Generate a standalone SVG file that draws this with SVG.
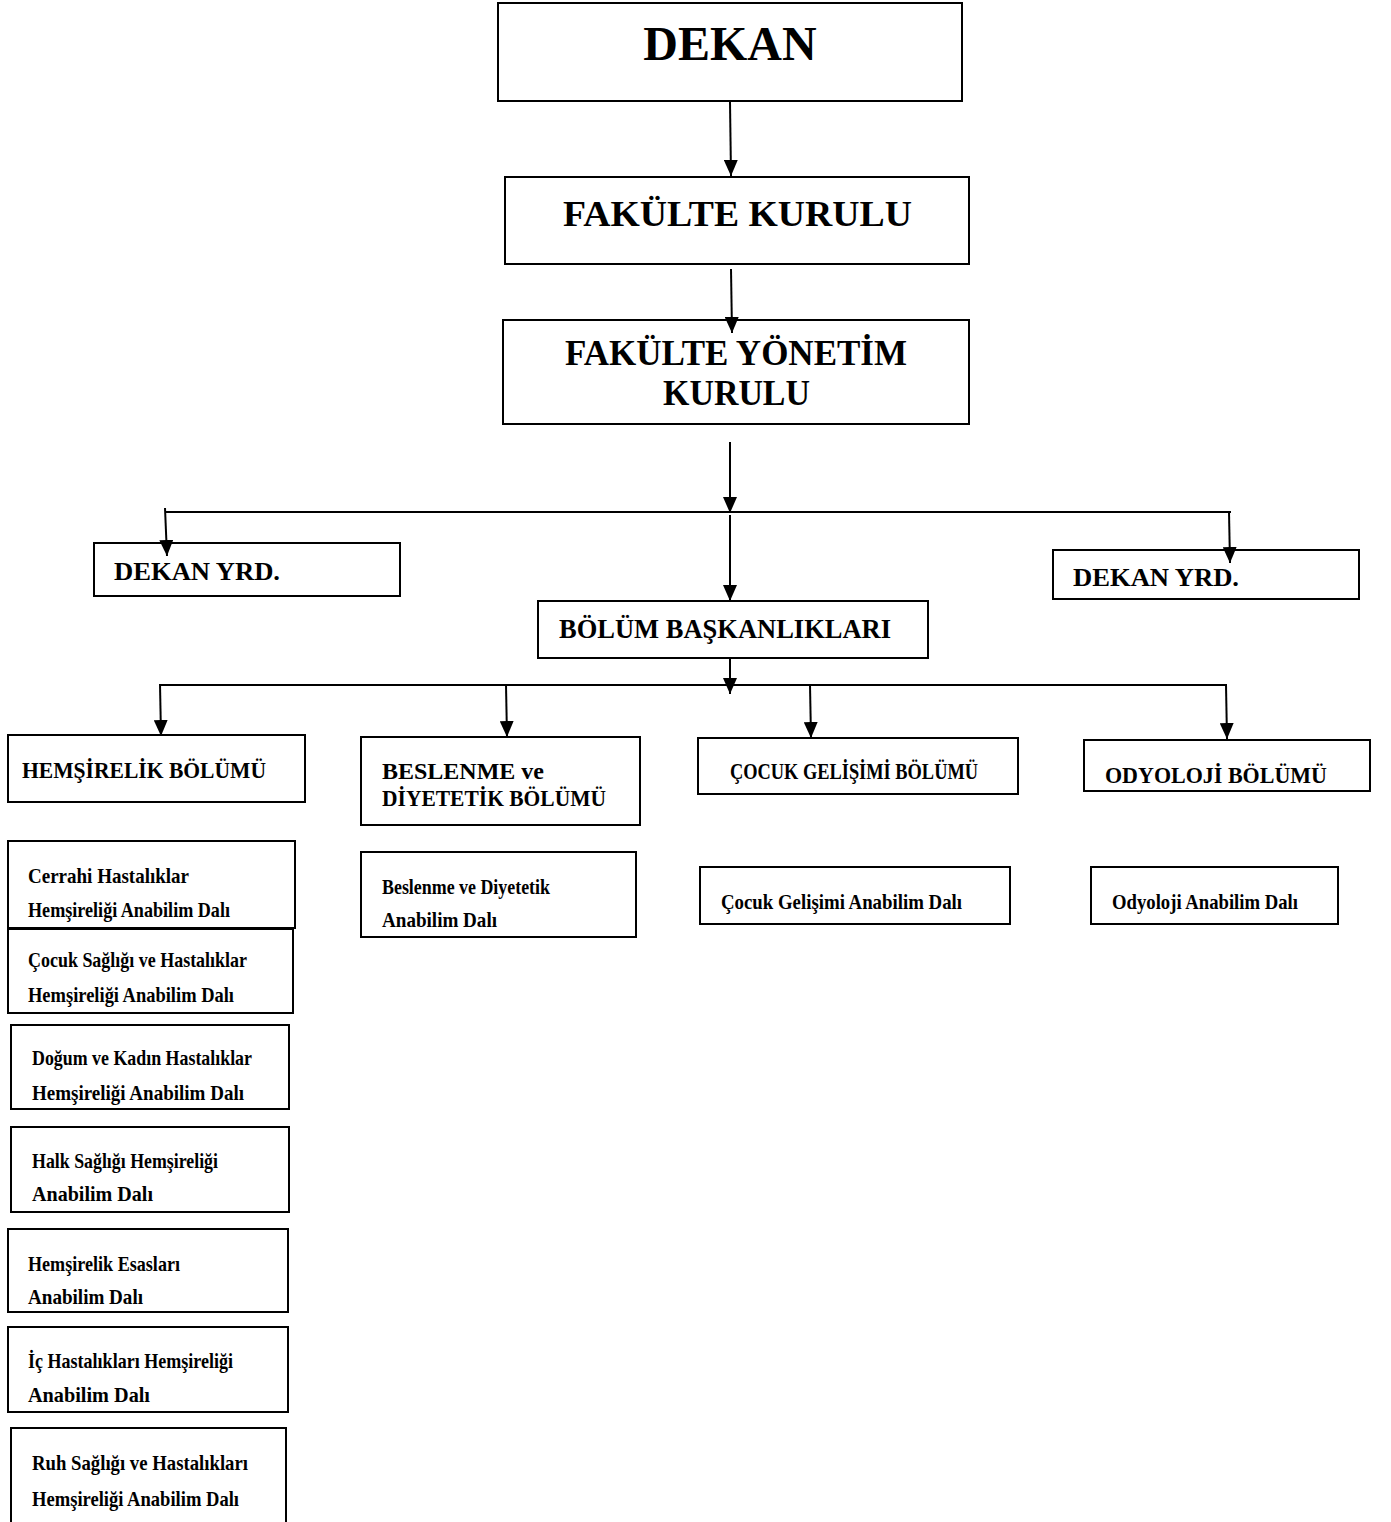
<svg xmlns="http://www.w3.org/2000/svg" width="1391" height="1522" viewBox="0 0 1391 1522">
<style>
.box{fill:#fff;stroke:#000;stroke-width:2}
.con{fill:none;stroke:#000;stroke-width:2}
text{font-family:"Liberation Serif","Times New Roman",serif;font-weight:bold;fill:#000}
.s{font-size:22px}
.d{font-size:24px}
</style>
<defs>
<marker id="ah" viewBox="0 0 16 14" refX="16" refY="7" markerWidth="16" markerHeight="14" markerUnits="userSpaceOnUse" orient="auto">
<path d="M0,0 L16,7 L0,14 z" fill="#000"/>
</marker>
</defs>
<rect width="1391" height="1522" fill="#fff"/>
<g id="dekan"><rect class="box" x="498" y="3" width="464" height="98"/><text x="730" y="60" text-anchor="middle" font-size="48">DEKAN</text></g>
<g id="fakulte-kurulu"><rect class="box" x="505" y="177" width="464" height="87"/><text x="563" y="226" font-size="36" textLength="349" lengthAdjust="spacingAndGlyphs">FAKÜLTE KURULU</text></g>
<g id="fakulte-yonetim"><rect class="box" x="503" y="320" width="466" height="104"/><text x="565" y="365" font-size="36" textLength="342" lengthAdjust="spacingAndGlyphs">FAKÜLTE YÖNETİM</text><text x="663" y="405" font-size="36" textLength="147" lengthAdjust="spacingAndGlyphs">KURULU</text></g>
<g id="dekan-yrd-1"><rect class="box" x="94" y="543" width="306" height="53"/><text x="114" y="580" font-size="26" textLength="166" lengthAdjust="spacingAndGlyphs">DEKAN YRD.</text></g>
<g id="dekan-yrd-2"><rect class="box" x="1053" y="550" width="306" height="49"/><text x="1073" y="586" font-size="26" textLength="166" lengthAdjust="spacingAndGlyphs">DEKAN YRD.</text></g>
<g id="bolum-baskanliklari"><rect class="box" x="538" y="601" width="390" height="57"/><text x="559" y="638" font-size="27" textLength="332" lengthAdjust="spacingAndGlyphs">BÖLÜM BAŞKANLIKLARI</text></g>
<g id="hemsirelik"><rect class="box" x="8" y="735" width="297" height="67"/><text class="d" x="22" y="778" textLength="244" lengthAdjust="spacingAndGlyphs">HEMŞİRELİK BÖLÜMÜ</text></g>
<g id="beslenme"><rect class="box" x="361" y="737" width="279" height="88"/><text class="d" x="382" y="779" textLength="162" lengthAdjust="spacingAndGlyphs">BESLENME ve</text><text class="d" x="382" y="806" textLength="224" lengthAdjust="spacingAndGlyphs">DİYETETİK BÖLÜMÜ</text></g>
<g id="cocuk-gelisimi"><rect class="box" x="698" y="738" width="320" height="56"/><text class="d" x="730" y="779" textLength="248" lengthAdjust="spacingAndGlyphs">ÇOCUK  GELİŞİMİ  BÖLÜMÜ</text></g>
<g id="odyoloji"><rect class="box" x="1084" y="740" width="286" height="51"/><text class="d" x="1105" y="783" textLength="222" lengthAdjust="spacingAndGlyphs">ODYOLOJİ  BÖLÜMÜ</text></g>
<g id="cerrahi"><rect class="box" x="8" y="841" width="287" height="87"/><text class="s" x="28" y="883" textLength="161" lengthAdjust="spacingAndGlyphs">Cerrahi Hastalıklar</text><text class="s" x="28" y="917" textLength="202" lengthAdjust="spacingAndGlyphs">Hemşireliği Anabilim Dalı</text></g>
<g id="cocuk-sagligi"><rect class="box" x="8" y="929" width="285" height="84"/><text class="s" x="28" y="967" textLength="219" lengthAdjust="spacingAndGlyphs">Çocuk Sağlığı ve Hastalıklar</text><text class="s" x="28" y="1002" textLength="206" lengthAdjust="spacingAndGlyphs">Hemşireliği Anabilim  Dalı</text></g>
<g id="dogum"><rect class="box" x="11" y="1025" width="278" height="84"/><text class="s" x="32" y="1065" textLength="220" lengthAdjust="spacingAndGlyphs">Doğum ve Kadın Hastalıklar</text><text class="s" x="32" y="1100" textLength="212" lengthAdjust="spacingAndGlyphs">Hemşireliği Anabilim Dalı</text></g>
<g id="halk-sagligi"><rect class="box" x="11" y="1127" width="278" height="85"/><text class="s" x="32" y="1168" textLength="186" lengthAdjust="spacingAndGlyphs">Halk Sağlığı Hemşireliği</text><text class="s" x="32" y="1201" textLength="121" lengthAdjust="spacingAndGlyphs">Anabilim Dalı</text></g>
<g id="esaslari"><rect class="box" x="8" y="1229" width="280" height="83"/><text class="s" x="28" y="1271" textLength="152" lengthAdjust="spacingAndGlyphs">Hemşirelik Esasları</text><text class="s" x="28" y="1304" textLength="115" lengthAdjust="spacingAndGlyphs">Anabilim Dalı</text></g>
<g id="ic-hastaliklari"><rect class="box" x="8" y="1327" width="280" height="85"/><text class="s" x="28" y="1368" textLength="205" lengthAdjust="spacingAndGlyphs">İç Hastalıkları Hemşireliği</text><text class="s" x="28" y="1402" textLength="122" lengthAdjust="spacingAndGlyphs">Anabilim Dalı</text></g>
<g id="ruh-sagligi"><rect class="box" x="11" y="1428" width="275" height="100"/><text class="s" x="32" y="1470" textLength="216" lengthAdjust="spacingAndGlyphs">Ruh  Sağlığı  ve  Hastalıkları</text><text class="s" x="32" y="1506" textLength="207" lengthAdjust="spacingAndGlyphs">Hemşireliği  Anabilim  Dalı</text></g>
<g id="beslenme-abd"><rect class="box" x="361" y="852" width="275" height="85"/><text class="s" x="382" y="894" textLength="168" lengthAdjust="spacingAndGlyphs">Beslenme ve Diyetetik</text><text class="s" x="382" y="927" textLength="115" lengthAdjust="spacingAndGlyphs">Anabilim Dalı</text></g>
<g id="cocuk-gelisimi-abd"><rect class="box" x="700" y="867" width="310" height="57"/><text class="s" x="721" y="909" textLength="241" lengthAdjust="spacingAndGlyphs">Çocuk  Gelişimi  Anabilim  Dalı</text></g>
<g id="odyoloji-abd"><rect class="box" x="1091" y="867" width="247" height="57"/><text class="s" x="1112" y="909" textLength="186" lengthAdjust="spacingAndGlyphs">Odyoloji  Anabilim  Dalı</text></g>
<g id="connectors">
<line class="con" x1="730" y1="102" x2="731" y2="176" marker-end="url(#ah)"/>
<line class="con" x1="731" y1="269" x2="732" y2="333" marker-end="url(#ah)"/>
<line class="con" x1="730" y1="442" x2="730" y2="513" marker-end="url(#ah)"/>
<line class="con" x1="165" y1="512" x2="1231" y2="512"/>
<line class="con" x1="165" y1="508" x2="167" y2="556" marker-end="url(#ah)"/>
<line class="con" x1="1229" y1="512" x2="1230" y2="563" marker-end="url(#ah)"/>
<line class="con" x1="730" y1="515" x2="730" y2="601" marker-end="url(#ah)"/>
<line class="con" x1="730" y1="659" x2="730" y2="694" marker-end="url(#ah)"/>
<line class="con" x1="160" y1="685" x2="1227" y2="685"/>
<line class="con" x1="160" y1="684" x2="161" y2="736" marker-end="url(#ah)"/>
<line class="con" x1="506" y1="685" x2="507" y2="737" marker-end="url(#ah)"/>
<line class="con" x1="810" y1="685" x2="811" y2="738" marker-end="url(#ah)"/>
<line class="con" x1="1226" y1="685" x2="1227" y2="739" marker-end="url(#ah)"/>
</g>
</svg>
